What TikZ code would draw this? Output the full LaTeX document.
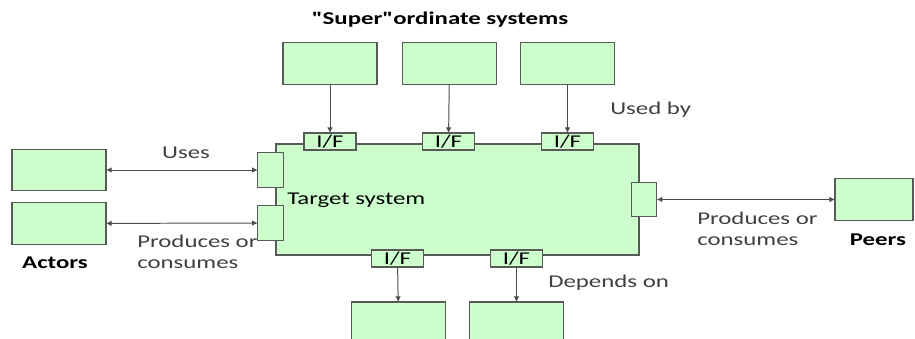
\documentclass[tikz,border=0pt]{standalone}
\usepackage{fontspec}
\setmainfont{Carlito}[FakeStretch=1.38, Ligatures=TeXOff]
\usetikzlibrary{positioning, arrows.meta}

\tikzset{
  sysbox/.style={rectangle, draw=gray!70!black, fill=green!20, line width=0.8pt, inner sep=0pt, outer sep=0pt, minimum width=2.35cm, minimum height=1.03cm},
  ifbox/.style={rectangle, draw=gray!70!black, fill=green!20, line width=0.8pt, inner sep=0pt, outer sep=0pt, minimum width=1.3cm, minimum height=0.425cm, font=\fontsize{12.8pt}{14.4pt}\selectfont},
  portbox/.style={rectangle, draw=gray!70!black, fill=green!20, line width=0.8pt, inner sep=0pt, outer sep=0pt, minimum width=0.64cm, minimum height=0.86cm},
  lbl/.style={inner sep=0pt, text=black!75, font=\fontsize{12.8pt}{14.4pt}\selectfont},
  conn/.style={draw=black!70, line width=0.7pt}
}

\begin{document}
\begin{tikzpicture}[x=0.025cm, y=-0.025cm]
			\clip (0,0) rectangle (915,339);

			% target system and its interfaces
			\node (target) [rectangle, draw=gray!70!black, fill=green!20, line width=0.8pt, inner sep=0pt, minimum width=9.075cm, minimum height=2.775cm] at (457.5,199.5) {};

			\node (ift1) [ifbox] at (330,141.5) {I/F};
			\node (ift2) [ifbox] at (448.5,141.5) {I/F};
			\node (ift3) [ifbox] at (567.5,141.5) {I/F};
			\node (ifb1) [ifbox] at (397.5,258.5) {I/F};
			\node (ifb2) [ifbox] at (516.5,258.5) {I/F};

			\node (portl1) [portbox] at (270.5,170) {};
			\node (portl2) [portbox] at (270.5,223) {};
			\node (portr) [portbox] at (644,199.5) {};

			% surrounding systems
			\node (sup1) [sysbox] at (330,63.5) {};
			\node (sup2) [sysbox] at (449.5,63.5) {};
			\node (sup3) [sysbox] at (567.5,63.5) {};

			\node (act1) [sysbox] at (59,170) {};
			\node (act2) [sysbox] at (59,223.5) {};

			\node (peer) [sysbox, minimum width=1.95cm] at (874,199.5) {};

			\node (dep1) [sysbox, anchor=north] at (398.5,302) {};
			\node (dep2) [sysbox, anchor=north] at (516.5,302) {};

			% connectors
			\draw[conn, -{Latex[length=4pt,width=4pt]}] (sup1) -- (ift1);
			\draw[conn, -{Latex[length=4pt,width=4pt]}] (sup2) -- (ift2);
			\draw[conn, -{Latex[length=4pt,width=4pt]}] (sup3) -- (ift3);
			\draw[conn, {Latex[length=4pt,width=4pt]}-{Latex[length=4pt,width=4pt]}] (act1) -- (portl1);
			\draw[conn, {Latex[length=4pt,width=4pt]}-{Latex[length=4pt,width=4pt]}] (act2) -- (portl2);
			\draw[conn, {Latex[length=4pt,width=4pt]}-{Latex[length=4pt,width=4pt]}] (portr) -- (peer);
			\draw[conn, -{Latex[length=4pt,width=4pt]}] (ifb1) -- (dep1);
			\draw[conn, -{Latex[length=4pt,width=4pt]}] (ifb2) -- (dep2);

			% labels
			\node (suptitle) [lbl, text=black, font=\fontsize{12.8pt}{14.4pt}\selectfont\bfseries] at (440,20) {"Super"ordinate systems};
			\node (tglbl) [lbl, anchor=west, text=black] at (287,200) {Target system};
			\node (usedby) [lbl, anchor=west] at (610,110) {Used by};
			\node (uses) [lbl] at (186,153) {Uses};
			\node (prodl) [lbl, anchor=north west, align=left] at (137,235) {Produces or\\consumes};
			\node (actors) [lbl, text=black, font=\fontsize{12.8pt}{14.4pt}\selectfont\bfseries] at (55,263) {Actors};
			\node (prodr) [lbl, anchor=north west, align=left] at (697,212) {Produces or\\consumes};
			\node (peers) [lbl, text=black, font=\fontsize{12.8pt}{14.4pt}\selectfont\bfseries] at (878,240) {Peers};
			\node (depon) [lbl, anchor=west] at (548,283) {Depends on};
		\end{tikzpicture}
\end{document}
